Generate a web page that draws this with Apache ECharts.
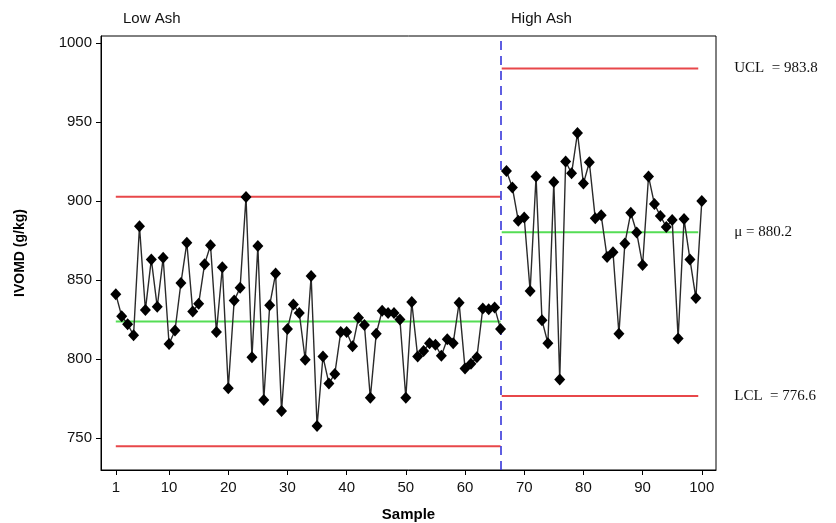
<!DOCTYPE html>
<html>
<head>
<meta charset="utf-8">
<script src="https://cdn.jsdelivr.net/npm/echarts@6/dist/echarts.min.js"></script>
<style>
html,body{margin:0;padding:0;background:#fff;}
#chart{width:836px;height:523px;}
</style>
</head>
<body>
<div id="chart"></div>
<script>
// ---- data ----
const lowValues = [841, 827, 822, 815, 884, 831, 863, 833, 864, 809.5,
  818, 848, 873.5, 830, 835, 860, 872, 817, 858, 781.5,
  837, 845, 902.5, 801, 871.5, 774, 834, 854, 767, 819,
  834.5, 829, 799.5, 852.5, 757.5, 801.5, 784.5, 790.5, 817, 817,
  808, 826, 821.5, 775.5, 816, 830.5, 829, 829, 825, 775.5,
  836, 801.5, 805, 810, 809, 802, 812.5, 810, 835.5, 794,
  797, 801, 832, 831.5, 832.5, 819];
const highValues = [919, 908.5, 887.5, 889.5, 843, 915.5, 824.5, 810, 912, 787,
  925, 917.5, 943, 911, 924.5, 889, 891, 864.5, 867.5, 816,
  873, 892.5, 880, 859.5, 915.5, 898, 890.5, 883.5, 888, 813,
  888.5, 863, 838.5, 900];
const lowFirstSample = 1;
const highFirstSample = 67;
const lowLimits = [902.6, 823.7, 744.8];      // UCL, mean, LCL (Low Ash)
const highLimits = [983.8, 880.2, 776.6];     // UCL, mean, LCL (High Ash)
const limitLabels = ['UCL  = 983.8', 'μ = 880.2', 'LCL  = 776.6'];
const lowSpan = [1, 66];
const highSpan = [66.2, 99.4];
const phaseBoundary = 66;
const phaseNames = ['Low Ash', 'High Ash'];
const xTicks = [1, 10, 20, 30, 40, 50, 60, 70, 80, 90, 100];
const yTicks = [750, 800, 850, 900, 950, 1000];

// ---- build ----
const lowPts = lowValues.map((v, i) => [lowFirstSample + i, v]);
const highPts = highValues.map((v, i) => [highFirstSample + i, v]);
const limitColors = ['#e8474a', '#55dd55', '#e8474a'];
const FONT = 'Liberation Sans';

const series = [];
lowLimits.forEach((v, i) => {
  series.push({
    type: 'line', data: [[lowSpan[0], v], [lowSpan[1], v]], symbol: 'none', silent: true,
    lineStyle: { color: limitColors[i], width: 2 }, z: 1
  });
});
highLimits.forEach((v, i) => {
  series.push({
    type: 'line', data: [[highSpan[0], v], [highSpan[1], v]], symbol: 'none', silent: true,
    lineStyle: { color: limitColors[i], width: 2 }, z: 1,
    endLabel: { show: true, formatter: limitLabels[i], distance: 36,
      fontFamily: 'Liberation Serif', fontSize: 15, color: '#111' }
  });
});
[lowPts, highPts].forEach(pts => {
  series.push({
    type: 'line', data: pts, symbol: 'diamond', symbolSize: [11, 12],
    itemStyle: { color: '#000' }, lineStyle: { color: '#2a2a2a', width: 1.4 }, z: 5
  });
});
series.push({
  type: 'line', data: [], symbol: 'none', silent: true,
  markLine: { symbol: 'none', silent: true, label: { show: false },
    lineStyle: { color: '#2a2ad8', type: [9, 6], width: 1.5 },
    data: [{ xAxis: phaseBoundary }] }
});

const option = {
  animation: false,
  grid: { left: 101, top: 36, width: 615, height: 434, show: true,
    containLabel: false, outerBoundsMode: 'none',
    borderColor: '#000', borderWidth: 1, backgroundColor: 'transparent' },
  xAxis: {
    type: 'value', min: -1.5, max: 102.4,
    name: 'Sample', nameLocation: 'middle', nameGap: 37,
    nameTextStyle: { fontFamily: FONT, fontWeight: 'bold', fontSize: 15, color: '#000' },
    axisLine: { show: true, onZero: false, lineStyle: { color: '#000', width: 1 } },
    axisTick: { show: true, length: 5, customValues: xTicks, lineStyle: { color: '#000' } },
    axisLabel: { customValues: xTicks, formatter: v => String(v), fontFamily: FONT, fontSize: 15, color: '#111', margin: 10 },
    splitLine: { show: false }
  },
  yAxis: {
    type: 'value', min: 729.7, max: 1004.4,
    name: 'IVOMD (g/kg)', nameLocation: 'middle', nameGap: 74,
    nameTextStyle: { fontFamily: FONT, fontWeight: 'bold', fontSize: 14, color: '#000' },
    axisLine: { show: true, onZero: false, lineStyle: { color: '#000', width: 1 } },
    axisTick: { show: true, length: 5, customValues: yTicks, lineStyle: { color: '#000' } },
    axisLabel: { customValues: yTicks, formatter: v => String(v), fontFamily: FONT, fontSize: 15, color: '#111', margin: 9 },
    splitLine: { show: false }
  },
  graphic: [
    { type: 'text', left: 123, top: 11, style: { text: phaseNames[0], font: '15px "Liberation Sans"', fill: '#111' } },
    { type: 'text', left: 511, top: 11, style: { text: phaseNames[1], font: '15px "Liberation Sans"', fill: '#111' } }
  ],
  series: series
};

const chart = echarts.init(document.getElementById('chart'), null, { renderer: 'canvas' });
chart.setOption(option);
</script>
</body>
</html>
